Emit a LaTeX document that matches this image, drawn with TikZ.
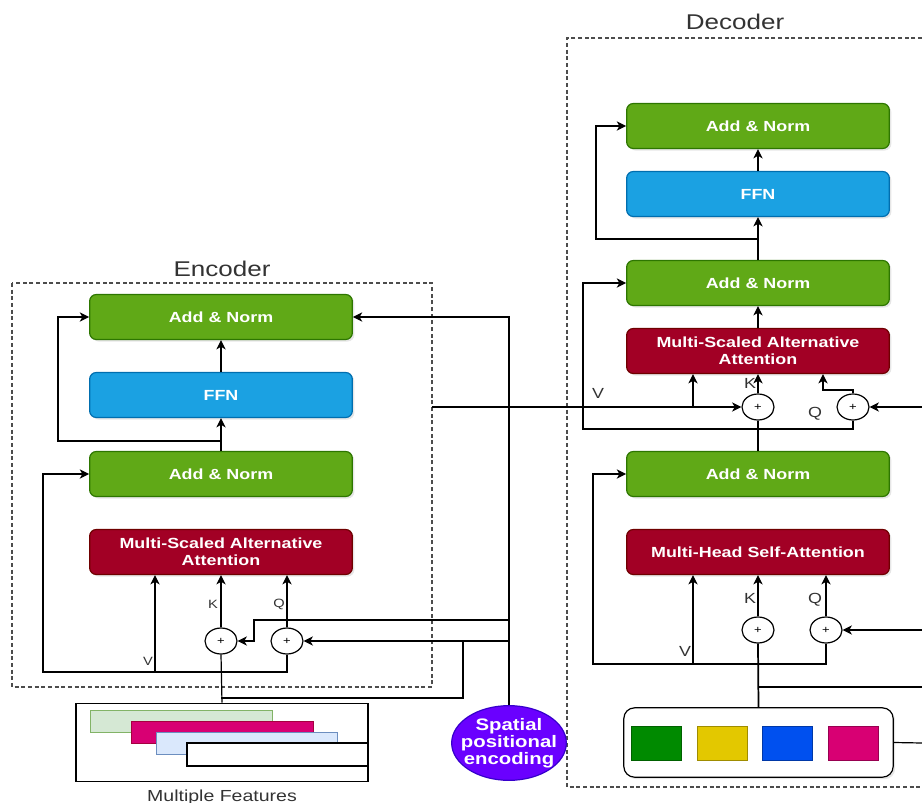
\documentclass[tikz,border=0pt]{standalone}
\usepackage{fontspec}
\setmainfont[FakeStretch=1.22]{Liberation Sans}
\usetikzlibrary{arrows.meta, shapes.geometric, shadows}

\definecolor{anGreen}{HTML}{60A917}
\definecolor{anGreenD}{HTML}{2D7600}
\definecolor{ffnBlue}{HTML}{1BA1E2}
\definecolor{ffnBlueD}{HTML}{006EAF}
\definecolor{attRed}{HTML}{A20025}
\definecolor{attRedD}{HTML}{6F0000}
\definecolor{spPurple}{HTML}{6A00FF}
\definecolor{spPurpleD}{HTML}{3700CC}
\definecolor{ftGreen}{HTML}{D5E8D4}
\definecolor{ftGreenD}{HTML}{82B366}
\definecolor{ftPink}{HTML}{D80073}
\definecolor{ftPinkD}{HTML}{A50040}
\definecolor{ftBlue}{HTML}{DAE8FC}
\definecolor{ftBlueD}{HTML}{6C8EBF}
\definecolor{sqGreen}{HTML}{008A00}
\definecolor{sqYellow}{HTML}{E3C800}
\definecolor{sqBlue}{HTML}{0050EF}
\definecolor{sqPink}{HTML}{D80073}

\begin{document}
\begin{tikzpicture}
[x=0.75pt, y=-0.75pt, line width=0.9pt,
 block/.style={draw, rounded corners=5pt, minimum width=197pt, minimum height=33.75pt,
   align=center, text=white, font=\bfseries\fontsize{11}{12.5}\selectfont,
   drop shadow={opacity=0.2, shadow xshift=1.5pt, shadow yshift=-1.5pt}},
 addnorm/.style={block, fill=anGreen, draw=anGreenD},
 ffn/.style={block, fill=ffnBlue, draw=ffnBlueD},
 attn/.style={block, fill=attRed, draw=attRedD},
 plus/.style={ellipse, draw, fill=white, minimum width=24pt, minimum height=19.5pt,
   inner sep=0pt, font=\fontsize{8}{8}\selectfont},
 arr/.style={-{Stealth[length=7pt, width=7pt, inset=2pt]}},
 lbl/.style={font=\fontsize{11}{11}\selectfont, text=black!80},
 slbl/.style={font=\fontsize{9}{9}\selectfont, text=black!80},
 ttl/.style={font=\fontsize{16}{16}\selectfont, text=black!80},
 dashframe/.style={dash pattern=on 3pt off 2pt, line width=0.8pt, draw=black!70}]
    \useasboundingbox (0,0) rectangle (922,803);
    % junctions and bends
    \coordinate (eJ1) at (221,441);
    \coordinate (eL1) at (58,441);
    \coordinate (eJ2) at (221,672);
    \coordinate (eL2) at (43,672);
    \coordinate (eV) at (155,672);
    \coordinate (eF1) at (221,698);
    \coordinate (eF2) at (463,698);
    \coordinate (eF3) at (463,641);
    \coordinate (eK1) at (254,620);
    \coordinate (sJ1) at (509,620);
    \coordinate (sJ2) at (509,641);
    \coordinate (eOut) at (432,407);
    \coordinate (dV) at (693,407);
    \coordinate (dJ1) at (758,239);
    \coordinate (dL1) at (596,239);
    \coordinate (dJ2) at (758,429);
    \coordinate (dL2) at (583,429);
    \coordinate (dQ2) at (823,390);
    \coordinate (dJ3) at (758,687);
    \coordinate (dJ4) at (758,664);
    \coordinate (dL3) at (593,664);
    \coordinate (dV2) at (693,664);
    \coordinate (rE1) at (922,407);
    \coordinate (rE2) at (922,630);
    \coordinate (rE3) at (922,687);
    \coordinate (rE4) at (922,743);
    % frames
    \draw[dashframe] (12,283) rectangle (432,687);
    \draw[dashframe] (922,38) -- (567,38) -- (567,787) -- (922,787);
    \node[ttl] (encTitle) at (222,269) {Encoder};
    \node[ttl] (decTitle) at (735,22) {Decoder};
    % encoder blocks
    \node[addnorm] (eAddTop) at (221,317) {Add \& Norm};
    \node[ffn] (eFFN) at (221,395) {FFN};
    \node[addnorm] (eAddBot) at (221,474) {Add \& Norm};
    \node[attn] (eAttn) at (221,552) {Multi-Scaled Alternative\\Attention};
    \node[plus] (ePlusK) at (221,641) {+};
    \node[plus] (ePlusQ) at (287,641) {+};
    \node[slbl] (eLblK) at (213,604) {K};
    \node[slbl] (eLblQ) at (279,604) {Q};
    \node[slbl] (eLblV) at (148,661) {V};
    % multiple features
    \node[draw, minimum width=219pt, minimum height=59pt, inner sep=0pt] (eFeat) at (222,742.5) {};
    \draw[fill=ftGreen, draw=ftGreenD, line width=0.5pt] (90,710) rectangle (272,732);
    \draw[fill=ftPink, draw=ftPinkD, line width=0.5pt] (131,721) rectangle (313,743);
    \draw[fill=ftBlue, draw=ftBlueD, line width=0.5pt] (156,732) rectangle (337,754);
    \draw[fill=white, line width=0.8pt] (187,743) rectangle (368,766);
    \node[font=\fontsize{12}{12}\selectfont, text=black!80] (featLbl) at (222,797) {Multiple Features};
    \node[ellipse, fill=spPurple, draw=spPurpleD, minimum width=86pt, minimum height=56pt,
      text=white, font=\bfseries\fontsize{12.5}{12.75}\selectfont, align=center,
      inner xsep=-8pt, inner ysep=0pt]
      (sPos) at (509,743) {Spatial\\positional\\encoding};
    % encoder wires
    \draw[arr] (eAddBot.north) -- (eFFN.south);
    \draw[arr] (eFFN.north) -- (eAddTop.south);
    \draw[arr] (eJ1) -- (eL1) |- (eAddTop.west);
    \draw (eFeat.north) -- (ePlusK.south);
    \draw[arr] (ePlusK.north) -- (ePlusK |- eAttn.south);
    \draw[arr] (ePlusQ.north) -- (ePlusQ |- eAttn.south);
    \draw[arr] (eJ2) -- (eL2) |- (eAddBot.west);
    \draw (eJ2) -| (ePlusQ.south);
    \draw[arr] (eV) -- (eV |- eAttn.south);
    \draw (eF1) -- (eF2) -- (eF3);
    \draw[arr] (sPos.north) |- (eAddTop.east);
    \draw[arr] (sJ1) -- (eK1) |- (ePlusK.east);
    \draw[arr] (sJ2) -- (ePlusQ.east);
    % decoder blocks
    \node[addnorm] (dAddTop) at (758,126) {Add \& Norm};
    \node[ffn] (dFFN) at (758,194) {FFN};
    \node[addnorm] (dAddMid) at (758,283) {Add \& Norm};
    \node[attn] (dAttn) at (758,351) {Multi-Scaled Alternative\\Attention};
    \node[addnorm] (dAddBot) at (758,474) {Add \& Norm};
    \node[attn] (dSelf) at (758,552) {Multi-Head Self-Attention};
    \node[plus] (dPlusK) at (758,407) {+};
    \node[plus] (dPlusQ) at (853,407) {+};
    \node[plus] (dPlusK2) at (758,630) {+};
    \node[plus] (dPlusQ2) at (826,630) {+};
    \node[lbl] (dLblV) at (598,393) {V};
    \node[lbl] (dLblK) at (750,383) {K};
    \node[lbl] (dLblQ) at (815,414) {Q};
    \node[lbl] (dLblK2) at (750,598) {K};
    \node[lbl] (dLblQ2) at (815,600) {Q};
    \node[lbl] (dLblV2) at (685,651) {V};
    % decoder input
    \node[draw, rounded corners=8pt, fill=white, minimum width=202pt, minimum height=52pt,
      inner sep=0pt, drop shadow={opacity=0.2, shadow xshift=1.5pt, shadow yshift=-1.5pt}]
      (dFeat) at (758.5,742.5) {};
    \foreach \x/\c in {631/sqGreen, 697/sqYellow, 762/sqBlue, 828/sqPink}
        \draw[fill=\c, draw=\c!70!black, line width=0.5pt] (\x,726) rectangle ++(50,34);
    % encoder to decoder
    \draw[arr] (eOut) -- (dPlusK.west);
    \draw[arr] (dV) -- (dV |- dAttn.south);
    % decoder wires
    \draw[arr] (dAddMid.north) -- (dFFN.south);
    \draw[arr] (dFFN.north) -- (dAddTop.south);
    \draw[arr] (dJ1) -- (dL1) |- (dAddTop.west);
    \draw[arr] (dAttn.north) -- (dAddMid.south);
    \draw[arr] (dPlusK.north) -- (dPlusK |- dAttn.south);
    \draw[line width=1.3pt] (dAddBot.north) -- (dPlusK.south);
    \draw[arr] (dJ2) -- (dL2) |- (dAddMid.west);
    \draw (dJ2) -| (dPlusQ.south);
    \draw[arr] (dPlusQ.north) |- (dQ2) -- (dQ2 |- dAttn.south);
    \draw[arr] (rE1) -- (dPlusQ.east);
    \draw[line width=1.3pt] (dFeat.north) -- (dPlusK2.south);
    \draw[arr] (dPlusK2.north) -- (dPlusK2 |- dSelf.south);
    \draw (dJ3) -- (rE3);
    \draw[arr] (dJ4) -- (dL3) |- (dAddBot.west);
    \draw (dJ4) -| (dPlusQ2.south);
    \draw[arr] (dV2) -- (dV2 |- dSelf.south);
    \draw[arr] (dPlusQ2.north) -- (dPlusQ2 |- dSelf.south);
    \draw[arr] (rE2) -- (dPlusQ2.east);
    \draw (dFeat.east) -- (rE4);
\end{tikzpicture}
\end{document}
